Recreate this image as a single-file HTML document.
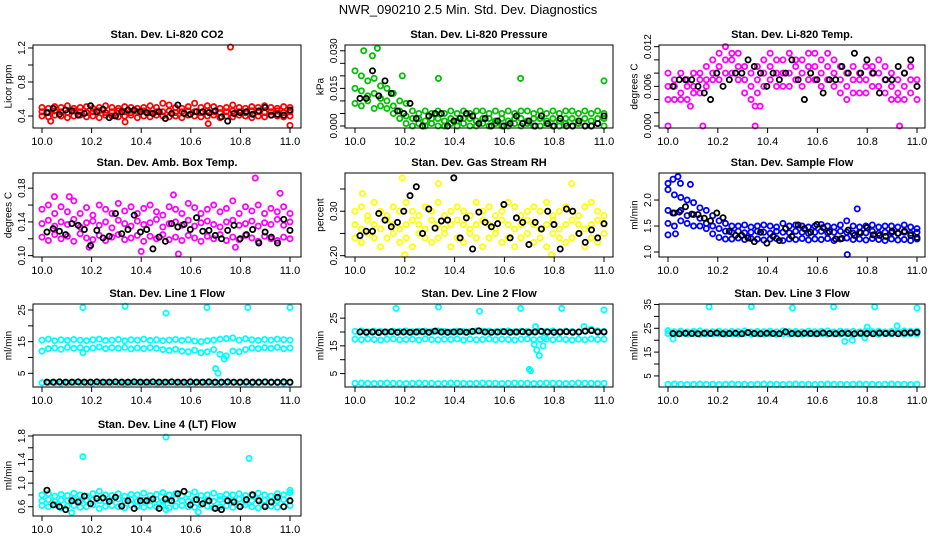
<!DOCTYPE html>
<html><head><meta charset="utf-8"><style>
html,body{margin:0;padding:0;background:#fff;}
svg{display:block;font-family:"Liberation Sans",sans-serif;}
</style></head><body>
<svg id="chart" width="936" height="540" viewBox="0 0 936 540">
<text x="468" y="14" text-anchor="middle" font-size="13">NWR_090210  2.5 Min. Std. Dev. Diagnostics</text>
</svg>
<script>
// ---- data arrays (y values; colored bands sampled evenly over 10.0-11.0, black evenly over 10.02-11.0) ----
const xTicks=[10.0,10.2,10.4,10.6,10.8,11.0];
const co2Hi=[0.50,0.49,0.51,0.50,0.52,0.49,0.50,0.51,0.49,0.50,0.52,0.50,0.49,0.51,0.50,0.49,0.50,0.52,0.50,0.55,0.53,0.50,0.49,0.51,0.55,0.50,0.52,0.51,0.49,0.50,0.53,0.50,0.49,0.51,0.50,0.52,0.50,0.49,0.51,0.50];
const co2Mid=[0.45,0.44,0.46,0.45,0.44,0.46,0.45,0.44,0.45,0.46,0.44,0.45,0.46,0.45,0.44,0.45,0.46,0.44,0.45,0.45,0.46,0.44,0.45,0.46,0.45,0.44,0.46,0.45,0.44,0.45,0.46,0.45,0.44,0.46,0.45,0.44,0.45,0.46,0.44,0.45];
const co2Lo=[0.40,0.39,0.41,0.40,0.38,0.40,0.41,0.39,0.40,0.38,0.41,0.40,0.39,0.40,0.41,0.38,0.40,0.39,0.41,0.40,0.39,0.40,0.38,0.41,0.40,0.39,0.40,0.41,0.38,0.40,0.39,0.41,0.40,0.38,0.40,0.39,0.41,0.40,0.39,0.40];
const co2OutX=[10.76,10.67,11.0,10.035,10.335];
const co2OutY=[1.21,0.31,0.29,0.34,0.33];
const co2Black=[0.44,0.49,0.42,0.47,0.46,0.41,0.43,0.52,0.45,0.48,0.38,0.40,0.45,0.47,0.47,0.45,0.44,0.43,0.45,0.37,0.43,0.53,0.43,0.42,0.45,0.45,0.44,0.46,0.39,0.34,0.43,0.44,0.45,0.42,0.46,0.50,0.41,0.42,0.41,0.47];
const co2Ticks=[0.4,0.6,0.8,1.0,1.2];
const co2Labels=["0.4","","0.8","","1.2"];

const prHi=[0.022,0.020,0.018,0.019,0.016,0.015,0.013,0.010,0.009,0.006,0.005,0.006,0.005,0.006,0.005,0.006,0.005,0.006,0.005,0.006,0.006,0.005,0.006,0.005,0.006,0.005,0.006,0.006,0.005,0.006,0.005,0.006,0.005,0.006,0.006,0.005,0.006,0.005,0.006,0.005];
const prMid=[0.015,0.014,0.012,0.013,0.011,0.010,0.008,0.006,0.004,0.003,0.003,0.002,0.003,0.003,0.002,0.003,0.002,0.003,0.003,0.002,0.003,0.003,0.002,0.003,0.002,0.003,0.003,0.002,0.003,0.003,0.002,0.003,0.002,0.003,0.003,0.002,0.003,0.002,0.003,0.003];
const prLo=[0.009,0.008,0.010,0.007,0.008,0.007,0.005,0.003,0.001,0.000,0.001,0.000,0.001,0.000,0.000,0.001,0.000,0.001,0.000,0.000,0.001,0.000,0.001,0.000,0.000,0.001,0.000,0.001,0.000,0.000,0.001,0.000,0.000,0.001,0.000,0.001,0.000,0.000,0.001,0.000];
const prOutX=[10.035,10.09,10.07,10.19,10.335,10.665,11.0];
const prOutY=[0.030,0.031,0.028,0.020,0.019,0.019,0.018];
const prBlack=[0.011,0.011,0.022,0.012,0.018,0.013,0.006,0.005,0.009,0.003,0.000,0.004,0.005,0.005,0.000,0.002,0.003,0.005,0.004,0.001,0.003,0.000,0.002,0.000,0.001,0.004,0.001,0.002,0.000,0.004,0.001,0.000,0.003,0.000,0.000,0.002,0.000,0.000,0.001,0.004];
const prTicks=[0.000,0.005,0.010,0.015,0.020,0.025,0.030];
const prLabels=["0.000","","","0.015","","","0.030"];

const ltHi=[0.008,0.007,0.008,0.007,0.008,0.008,0.009,0.010,0.011,0.012,0.011,0.011,0.009,0.008,0.009,0.010,0.011,0.010,0.010,0.011,0.010,0.010,0.011,0.011,0.010,0.011,0.010,0.009,0.008,0.009,0.008,0.009,0.009,0.010,0.009,0.008,0.007,0.008,0.009,0.007];
const ltMid=[0.006,0.006,0.005,0.006,0.006,0.007,0.007,0.008,0.009,0.010,0.010,0.009,0.007,0.006,0.007,0.008,0.009,0.008,0.008,0.008,0.009,0.008,0.009,0.009,0.008,0.009,0.008,0.007,0.006,0.007,0.007,0.007,0.008,0.008,0.007,0.006,0.005,0.006,0.007,0.006];
const ltLo=[0.004,0.004,0.004,0.004,0.005,0.005,0.006,0.007,0.007,0.008,0.008,0.007,0.005,0.004,0.005,0.006,0.007,0.006,0.006,0.006,0.007,0.006,0.007,0.007,0.006,0.007,0.006,0.005,0.004,0.005,0.005,0.005,0.006,0.006,0.005,0.004,0.004,0.004,0.005,0.004];
const ltOutX=[10.0,10.14,10.35,10.93,10.09,10.35,10.37];
const ltOutY=[0.0,0.0,0.0,0.0,0.003,0.003,0.003];
const ltBlack=[0.006,0.007,0.007,0.007,0.006,0.005,0.004,0.008,0.006,0.007,0.008,0.008,0.010,0.009,0.008,0.006,0.008,0.007,0.008,0.010,0.007,0.004,0.008,0.007,0.005,0.007,0.007,0.009,0.008,0.011,0.008,0.010,0.008,0.005,0.007,0.007,0.009,0.008,0.010,0.006];
const ltTicks=[0.000,0.002,0.004,0.006,0.008,0.010,0.012];
const ltLabels=["0.000","","","0.006","","","0.012"];

const abHi=[0.155,0.160,0.150,0.158,0.152,0.165,0.150,0.157,0.148,0.160,0.155,0.150,0.162,0.153,0.158,0.150,0.156,0.160,0.152,0.148,0.158,0.155,0.150,0.162,0.157,0.150,0.155,0.160,0.152,0.156,0.165,0.150,0.158,0.153,0.160,0.150,0.156,0.152,0.158,0.150];
const abMid=[0.138,0.142,0.135,0.140,0.137,0.143,0.134,0.139,0.141,0.136,0.140,0.133,0.142,0.138,0.135,0.141,0.137,0.139,0.143,0.134,0.138,0.140,0.136,0.142,0.135,0.139,0.141,0.137,0.134,0.140,0.142,0.136,0.138,0.141,0.135,0.139,0.137,0.143,0.136,0.140];
const abLo=[0.122,0.118,0.125,0.120,0.123,0.117,0.126,0.121,0.119,0.124,0.118,0.122,0.125,0.119,0.121,0.124,0.117,0.123,0.120,0.125,0.119,0.122,0.118,0.124,0.121,0.117,0.123,0.120,0.125,0.118,0.122,0.119,0.124,0.121,0.117,0.123,0.120,0.118,0.122,0.120];
const abOutX=[10.86,10.96,10.55,10.40,10.05,10.11,10.53,10.19,10.78];
const abOutY=[0.192,0.174,0.102,0.105,0.170,0.170,0.172,0.110,0.110];
const abBlack=[0.128,0.132,0.129,0.125,0.138,0.136,0.131,0.112,0.130,0.121,0.123,0.150,0.126,0.131,0.148,0.128,0.131,0.108,0.122,0.117,0.138,0.134,0.137,0.131,0.145,0.129,0.130,0.124,0.120,0.130,0.136,0.120,0.125,0.131,0.115,0.128,0.122,0.115,0.143,0.130];
const abTicks=[0.10,0.12,0.14,0.16,0.18];
const abLabels=["0.10","","0.14","","0.18"];

const rhHi=[0.30,0.31,0.29,0.32,0.30,0.29,0.31,0.30,0.32,0.30,0.29,0.31,0.30,0.32,0.29,0.30,0.31,0.30,0.29,0.32,0.30,0.31,0.29,0.30,0.32,0.31,0.29,0.30,0.31,0.30,0.32,0.29,0.30,0.31,0.30,0.29,0.31,0.32,0.30,0.29];
const rhMid=[0.27,0.26,0.28,0.27,0.26,0.28,0.27,0.26,0.27,0.28,0.27,0.26,0.28,0.27,0.26,0.27,0.28,0.27,0.26,0.27,0.28,0.27,0.26,0.28,0.27,0.26,0.27,0.28,0.27,0.26,0.27,0.28,0.26,0.27,0.28,0.27,0.26,0.27,0.28,0.27];
const rhLo=[0.24,0.23,0.25,0.24,0.22,0.24,0.25,0.23,0.24,0.22,0.25,0.24,0.23,0.24,0.25,0.22,0.24,0.23,0.25,0.24,0.22,0.24,0.25,0.23,0.24,0.22,0.24,0.25,0.23,0.24,0.22,0.25,0.24,0.23,0.24,0.25,0.22,0.24,0.23,0.25];
const rhOutX=[10.19,10.87,10.20,10.79,10.335,10.03];
const rhOutY=[0.375,0.362,0.202,0.202,0.362,0.34];
const rhBlack=[0.245,0.255,0.255,0.295,0.280,0.265,0.275,0.300,0.335,0.355,0.250,0.305,0.262,0.278,0.280,0.375,0.240,0.285,0.215,0.298,0.275,0.265,0.272,0.315,0.240,0.285,0.275,0.225,0.275,0.260,0.300,0.270,0.215,0.305,0.300,0.250,0.230,0.258,0.240,0.272];
const rhTicks=[0.20,0.25,0.30,0.35];
const rhLabels=["0.20","","0.30",""];

const sfHi=[2.20,2.10,2.05,2.00,1.95,1.85,1.80,1.70,1.60,1.55,1.50,1.50,1.52,1.48,1.50,1.52,1.50,1.48,1.55,1.50,1.52,1.50,1.48,1.50,1.53,1.50,1.48,1.52,1.60,1.50,1.48,1.50,1.52,1.48,1.50,1.50,1.48,1.52,1.48,1.45];
const sfMid=[1.80,1.75,1.80,1.70,1.72,1.65,1.55,1.50,1.45,1.40,1.38,1.40,1.37,1.38,1.40,1.38,1.36,1.40,1.38,1.37,1.40,1.38,1.36,1.38,1.40,1.37,1.38,1.40,1.38,1.36,1.38,1.37,1.40,1.36,1.38,1.37,1.36,1.38,1.36,1.38];
const sfLo=[1.55,1.50,1.60,1.55,1.50,1.50,1.45,1.35,1.28,1.25,1.25,1.27,1.24,1.26,1.25,1.23,1.25,1.26,1.22,1.25,1.24,1.26,1.23,1.25,1.24,1.26,1.22,1.25,1.27,1.24,1.25,1.23,1.26,1.24,1.22,1.25,1.23,1.24,1.22,1.25];
const sfOutX=[10.0,10.02,10.04,10.05,10.09,10.72,10.76,10.0,10.03];
const sfOutY=[2.32,2.40,2.45,2.32,2.30,0.95,1.83,1.33,1.35];
const sfBlack=[1.75,1.77,1.87,1.73,1.72,1.65,1.60,1.75,1.66,1.40,1.32,1.32,1.27,1.20,1.38,1.17,1.30,1.22,1.45,1.30,1.52,1.45,1.38,1.53,1.47,1.39,1.25,1.26,1.42,1.32,1.37,1.47,1.33,1.32,1.30,1.40,1.36,1.40,1.32,1.28];
const sfTicks=[1.0,1.5,2.0];
const sfLabels=["1.0","1.5","2.0"];

const l1Hi=[15.5,15.8,15.3,15.6,15.4,15.7,15.5,15.3,15.6,15.8,15.4,15.5,15.7,15.3,15.6,15.5,15.8,15.4,15.6,15.3,15.5,15.7,15.4,15.6,15.2,15.0,15.3,15.5,15.8,16.0,16.2,15.5,15.9,15.6,15.4,15.7,15.5,15.8,15.6,15.5];
const l1Mid=[12.0,12.8,13.0,12.6,13.2,12.9,13.1,12.7,13.0,13.3,12.8,13.1,12.9,13.2,12.7,13.0,12.8,13.1,12.9,12.5,12.2,12.6,12.0,11.8,12.3,11.5,11.8,12.5,11.0,10.5,12.0,11.8,12.5,13.0,12.8,13.1,12.9,13.2,12.8,13.0];
const l1Lo=[2.0,2.1,2.0,1.9,2.0,2.1,2.0,2.0,1.9,2.0,2.1,2.0,2.0,1.9,2.0,2.1,2.0,2.0,1.9,2.0,2.1,2.0,2.0,1.9,2.0,2.1,2.0,2.0,1.9,2.0,2.1,2.0,2.0,1.9,2.0,2.1,2.0,2.0,1.9,2.0];
const l1OutX=[10.165,10.335,10.50,10.665,10.83,11.0,10.70,10.71,10.735,10.165];
const l1OutY=[25.8,26.2,24.0,25.8,25.8,25.8,6.5,5.0,9.5,11.5];
const l1Black=[2.2,2.2,2.3,2.2,2.2,2.3,2.2,2.2,2.3,2.2,2.2,2.3,2.2,2.2,2.3,2.2,2.2,2.3,2.2,2.2,2.3,2.2,2.2,2.3,2.2,2.2,2.3,2.2,2.2,2.3,2.2,2.2,2.3,2.2,2.2,2.3,2.2,2.2,2.3,2.2];
const l1Ticks=[5,10,15,20,25];
const l1Labels=["5","","15","","25"];

const l2Hi=[20.2,20.4,20.1,20.3,20.2,20.0,20.3,20.2,20.4,20.1,20.2,20.3,20.1,20.4,20.2,20.0,20.3,20.2,20.1,20.4,20.2,20.3,20.1,20.2,20.4,20.1,20.3,20.2,20.0,20.3,20.2,20.4,20.1,20.3,20.2,20.0,20.3,21.0,20.4,20.2];
const l2Mid=[17.4,17.2,17.5,17.3,17.1,17.4,17.5,17.2,17.3,17.4,17.1,17.5,17.3,17.2,17.4,17.3,17.5,17.1,17.4,17.2,17.3,17.5,17.2,17.4,17.3,17.1,17.4,17.5,17.2,17.3,17.4,17.2,17.5,17.3,17.1,17.4,17.2,17.5,17.3,17.4];
const l2Lo=[1.5,1.6,1.5,1.4,1.5,1.6,1.5,1.5,1.4,1.5,1.6,1.5,1.5,1.4,1.5,1.6,1.5,1.5,1.4,1.5,1.6,1.5,1.5,1.4,1.5,1.6,1.5,1.5,1.4,1.5,1.6,1.5,1.5,1.4,1.5,1.6,1.5,1.5,1.4,1.5];
const l2OutX=[10.165,10.335,10.50,10.665,10.83,11.0,10.70,10.705,10.72,10.73,10.74,10.755,10.76,10.725,10.92];
const l2OutY=[28.5,29.0,27.5,28.5,28.5,28.0,6.5,6.0,15.5,13.5,11.5,15.0,18.0,22.0,22.0];
const l2Black=[20.0,19.9,20.0,19.8,20.0,20.1,19.9,20.0,19.9,20.0,20.1,19.9,20.3,20.0,19.9,20.0,20.1,19.9,20.2,20.4,20.0,19.9,20.0,20.1,19.9,20.0,20.1,19.9,20.0,20.2,20.0,19.9,20.0,20.1,19.9,20.0,20.3,20.5,20.0,20.0];
const l2Ticks=[5,10,15,20,25];
const l2Labels=["5","","15","","25"];

const l3Hi=[24.0,23.6,23.8,23.5,23.7,23.9,23.5,23.6,23.8,23.5,23.7,23.6,23.9,23.5,23.7,23.6,23.8,23.5,23.9,23.6,23.7,23.5,23.8,23.6,23.7,23.9,23.5,23.8,23.6,23.7,23.5,23.9,23.6,23.8,23.5,23.7,23.6,23.9,23.7,23.8];
const l3Mid=[22.8,22.5,22.7,22.6,22.8,22.5,22.7,22.6,22.8,22.5,22.7,22.6,22.8,22.5,22.7,22.6,22.8,22.5,22.7,22.6,22.8,22.5,22.7,22.6,22.8,22.5,22.7,22.6,22.8,22.5,22.7,22.6,22.8,22.5,22.7,22.6,22.8,22.5,22.7,22.6];
const l3Lo=[1.5,1.6,1.5,1.4,1.5,1.6,1.5,1.5,1.4,1.5,1.6,1.5,1.5,1.4,1.5,1.6,1.5,1.5,1.4,1.5,1.6,1.5,1.5,1.4,1.5,1.6,1.5,1.5,1.4,1.5,1.6,1.5,1.5,1.4,1.5,1.6,1.5,1.5,1.4,1.5];
const l3OutX=[10.165,10.335,10.50,10.665,10.83,11.0,10.71,10.74,10.79,10.02,10.92,10.80];
const l3OutY=[34.0,34.0,33.5,34.0,34.0,33.5,19.5,20.0,21.0,20.5,26.0,25.5];
const l3Black=[22.8,22.7,22.9,22.8,22.7,22.9,22.8,23.0,22.7,22.8,22.9,22.7,23.2,22.8,22.7,22.9,22.8,22.7,23.5,22.8,22.7,22.9,22.8,22.7,23.0,22.8,22.7,22.9,22.8,22.7,22.9,22.8,22.7,23.0,22.8,22.9,22.7,23.0,23.1,23.3];
const l3Ticks=[5,10,15,20,25,30,35];
const l3Labels=["5","","15","","25","","35"];

const l4Hi=[0.80,0.82,0.78,0.81,0.79,0.83,0.80,0.78,0.82,0.86,0.80,0.79,0.82,0.78,0.81,0.80,0.83,0.79,0.81,0.84,0.80,0.82,0.78,0.81,0.85,0.79,0.80,0.83,0.78,0.81,0.80,0.82,0.79,0.81,0.83,0.80,0.78,0.82,0.80,0.84];
const l4Mid=[0.70,0.72,0.69,0.71,0.70,0.73,0.69,0.71,0.72,0.70,0.69,0.71,0.73,0.70,0.72,0.69,0.71,0.70,0.72,0.69,0.71,0.73,0.70,0.69,0.72,0.71,0.70,0.69,0.72,0.70,0.71,0.73,0.69,0.70,0.72,0.71,0.69,0.70,0.72,0.71];
const l4Lo=[0.62,0.60,0.63,0.58,0.61,0.62,0.59,0.60,0.63,0.57,0.61,0.62,0.60,0.58,0.63,0.61,0.59,0.62,0.60,0.63,0.58,0.61,0.62,0.60,0.59,0.63,0.61,0.58,0.60,0.62,0.59,0.61,0.63,0.60,0.58,0.62,0.61,0.59,0.60,0.62];
const l4OutX=[10.165,10.50,10.835,10.12,10.50,10.63,11.0];
const l4OutY=[1.45,1.78,1.42,0.50,0.55,0.51,0.88];
const l4Black=[0.88,0.63,0.60,0.55,0.70,0.68,0.78,0.65,0.74,0.75,0.69,0.76,0.61,0.70,0.57,0.70,0.70,0.73,0.57,0.73,0.70,0.82,0.86,0.63,0.72,0.65,0.70,0.57,0.55,0.70,0.68,0.60,0.72,0.80,0.70,0.60,0.68,0.76,0.60,0.70];
const l4Ticks=[0.6,0.8,1.0,1.2,1.4,1.6,1.8];
const l4Labels=["0.6","","1.0","","1.4","","1.8"];

// ---- layout ----
const NS="http://www.w3.org/2000/svg";
const svg=document.getElementById('chart');
const cols=[{l:33,r:301,x0:42,x1:290,yl:8},{l:345,r:613,x0:355,x1:604,yl:320},{l:659,r:925,x0:668,x1:917,yl:634}];
const rows=[{t:45,b:128},{t:173,b:257},{t:304,b:387},{t:435,b:516}];
const panels=[
 {name:"co2",title:"Stan. Dev. Li-820 CO2",ylab:"Licor ppm",c:0,r:0,col:"#ff0000",lo:0.259,hi:1.235,bands:[co2Hi,co2Mid,co2Lo],ox:co2OutX,oy:co2OutY,bk:co2Black,tk:co2Ticks,tl:co2Labels},
 {name:"pressure",title:"Stan. Dev. Li-820 Pressure",ylab:"kPa",c:1,r:0,col:"#00c000",lo:-0.0008,hi:0.0323,bands:[prHi,prMid,prLo],ox:prOutX,oy:prOutY,bk:prBlack,tk:prTicks,tl:prLabels},
 {name:"li-temp",title:"Stan. Dev. Li-820 Temp.",ylab:"degrees C",c:2,r:0,col:"#ff00ff",lo:-0.0003,hi:0.01225,bands:[ltHi,ltMid,ltLo],ox:ltOutX,oy:ltOutY,bk:ltBlack,tk:ltTicks,tl:ltLabels},
 {name:"amb-box-temp",title:"Stan. Dev. Amb. Box Temp.",ylab:"degrees C",c:0,r:1,col:"#ff00ff",lo:0.0984,hi:0.198,bands:[abHi,abMid,abLo],ox:abOutX,oy:abOutY,bk:abBlack,tk:abTicks,tl:abLabels},
 {name:"gas-rh",title:"Stan. Dev. Gas Stream RH",ylab:"percent",c:1,r:1,col:"#ffff00",lo:0.197,hi:0.386,bands:[rhHi,rhMid,rhLo],ox:rhOutX,oy:rhOutY,bk:rhBlack,tk:rhTicks,tl:rhLabels},
 {name:"sample-flow",title:"Stan. Dev. Sample Flow",ylab:"ml/min",c:2,r:1,col:"#0000ff",lo:0.904,hi:2.52,bands:[sfHi,sfMid,sfLo],ox:sfOutX,oy:sfOutY,bk:sfBlack,tk:sfTicks,tl:sfLabels},
 {name:"line1-flow",title:"Stan. Dev. Line 1 Flow",ylab:"ml/min",c:0,r:2,col:"#00ffff",lo:0.67,hi:26.9,bands:[l1Hi,l1Mid,l1Lo],ox:l1OutX,oy:l1OutY,bk:l1Black,tk:l1Ticks,tl:l1Labels},
 {name:"line2-flow",title:"Stan. Dev. Line 2 Flow",ylab:"ml/min",c:1,r:2,col:"#00ffff",lo:0.15,hi:30.1,bands:[l2Hi,l2Mid,l2Lo],ox:l2OutX,oy:l2OutY,bk:l2Black,tk:l2Ticks,tl:l2Labels},
 {name:"line3-flow",title:"Stan. Dev. Line 3 Flow",ylab:"ml/min",c:2,r:2,col:"#00ffff",lo:0.35,hi:35.2,bands:[l3Hi,l3Mid,l3Lo],ox:l3OutX,oy:l3OutY,bk:l3Black,tk:l3Ticks,tl:l3Labels},
 {name:"line4-flow",title:"Stan. Dev. Line 4 (LT) Flow",ylab:"ml/min",c:0,r:3,col:"#00ffff",lo:0.442,hi:1.817,bands:[l4Hi,l4Mid,l4Lo],ox:l4OutX,oy:l4OutY,bk:l4Black,tk:l4Ticks,tl:l4Labels}
];
function mk(tag,attrs,parent){const e=document.createElementNS(NS,tag);for(const k in attrs)e.setAttribute(k,attrs[k]);(parent||svg).appendChild(e);return e;}
panels.forEach(p=>{
  const C=cols[p.c],R=rows[p.r];
  const g=mk('g',{});
  
  
  const xs=v=>C.x0+(v-10)*(C.x1-C.x0);
  const ys=v=>R.b-(v-p.lo)/(p.hi-p.lo)*(R.b-R.t);
  const t=mk('text',{x:(C.l+C.r)/2,y:R.t-7,'text-anchor':'middle','font-size':11,'font-weight':'bold'},g);
  t.textContent=p.title;
  
  
  const yc=(R.t+R.b)/2;
  const yl=mk('text',{x:C.yl,y:yc,'text-anchor':'middle','font-size':10,transform:`rotate(-90 ${C.yl} ${yc})`,dy:'0.35em'},g);
  yl.textContent=p.ylab;
  
  
  const pts=mk('g',{fill:'none','stroke-width':1.8},g);
  
  
  p.bands.forEach(arr=>{arr.forEach((v,i)=>{
    mk('circle',{cx:xs(10+i/(arr.length-1)),cy:ys(v),r:2.6,stroke:p.col},pts);
  });});
  p.ox.forEach((x,i)=>{mk('circle',{cx:xs(x),cy:ys(p.oy[i]),r:2.6,stroke:p.col},pts);});
  const bg=mk('g',{fill:'none','stroke-width':1.8,stroke:'#000'},g);
  
  
  p.bk.forEach((v,i)=>{mk('circle',{cx:xs(10.02+i*0.98/(p.bk.length-1)),cy:ys(v),r:2.6},bg);});
  const box=mk('rect',{x:C.l,y:R.t,width:C.r-C.l,height:R.b-R.t,fill:'none',stroke:'#000','stroke-width':1},g);
  
  
  const xa=mk('g',{'font-size':11},g);
  
  
  xTicks.forEach(v=>{
    mk('line',{x1:xs(v),x2:xs(v),y1:R.b,y2:R.b+5,stroke:'#000'},xa);
    const tx=mk('text',{x:xs(v),y:R.b+17,'text-anchor':'middle'},xa);tx.textContent=v.toFixed(1);
  });
  const ya=mk('g',{'font-size':10},g);
  
  
  p.tk.forEach((v,i)=>{
    const y=ys(v);
    mk('line',{x1:C.l-5,x2:C.l,y1:y,y2:y,stroke:'#000'},ya);
    if(p.tl[i]){const lx=C.l-8;const tx=mk('text',{x:lx,y:y,'text-anchor':'middle',transform:`rotate(-90 ${lx} ${y})`},ya);tx.textContent=p.tl[i];}
  });
});
</script>
</body></html>
